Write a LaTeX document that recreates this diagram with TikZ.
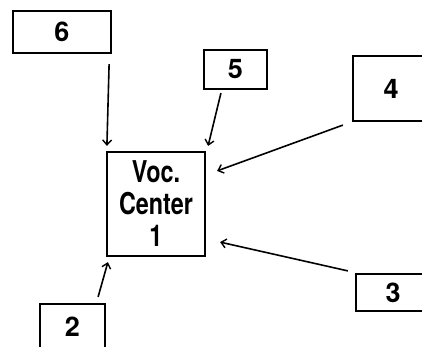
\documentclass[tikz,border=0pt]{standalone}
\usepackage{fontspec}
\setmainfont{TeX Gyre Heros}
\usetikzlibrary{arrows.meta}
\begin{document}
\begin{tikzpicture}[x=1pt,y=-1pt,
  box/.style={draw,line width=2.2pt,inner sep=0pt,anchor=center,font=\fontsize{27}{30}\selectfont\bfseries},
  arr/.style={line width=1.6pt,-{Straight Barb[length=5pt,width=9pt,line width=1.4pt]}}]
\useasboundingbox (0,0) rectangle (422,346);
\clip (0,0) rectangle (422,346);
\fill[white] (0,0) rectangle (422,346);
\node[box,minimum width=98pt,minimum height=42pt] (n6) at (62,32) {6};
\node[box,minimum width=63pt,minimum height=39pt] (n5) at (235.5,69.5) {5};
\node[box,minimum width=76pt,minimum height=65pt] (n4) at (391,88.5) {4};
\node[box,minimum width=74pt,minimum height=37pt] (n3) at (393,292.5) {3};
\node[box,minimum width=65pt,minimum height=46pt] (n2) at (72.5,327) {2};
\node[box,minimum width=98pt,minimum height=104pt,align=center,font=\fontsize{30}{32}\selectfont\bfseries] (c) at (156,204)
  {\scalebox{0.78}[1]{Voc.}\\
   \scalebox{0.78}[1]{Center}\\
   \scalebox{0.78}[1]{1}};
\draw[arr] ([xshift=-3pt,yshift=-10pt]n6.south east) -- ([xshift=1pt,yshift=5pt]c.north west);
\draw[arr] ([xshift=18pt,yshift=-3pt]n5.south west) -- ([xshift=2pt,yshift=5pt]c.north east);
\draw[arr] ([xshift=-9pt,yshift=-3pt]n4.south west) -- ([xshift=11pt,yshift=-20pt]c.north east);
\draw[arr] ([xshift=-7pt,yshift=2pt]n3.north west) -- ([xshift=14pt,yshift=15pt]c.south east);
\draw[arr] ([xshift=-8pt,yshift=6pt]n2.north east) -- ([xshift=2pt,yshift=-5pt]c.south west);
\end{tikzpicture}
\end{document}
